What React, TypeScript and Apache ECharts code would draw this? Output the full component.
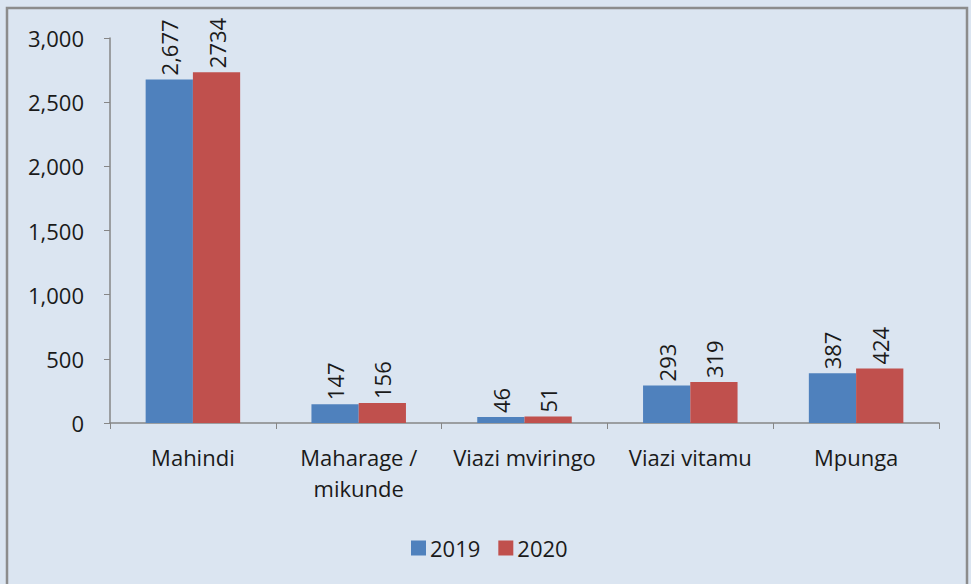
import React, { useEffect, useRef } from "react";
import * as echarts from "echarts";

const categories = ["Mahindi", "Maharage /\nmikunde", "Viazi mviringo", "Viazi vitamu", "Mpunga"];
const values2019 = [2677, 147, 46, 293, 387];
const values2020 = [2734, 156, 51, 319, 424];
const labels2019 = ["2,677", "147", "46", "293", "387"];
const labels2020 = ["2734", "156", "51", "319", "424"];
const yTicks = [0, 500, 1000, 1500, 2000, 2500, 3000];

const FONT = "Open Sans";
const FS = 22;

export default function App() {
  const ref = useRef<HTMLDivElement>(null);
  useEffect(() => {
    if (!ref.current) return;
    const chart = echarts.init(ref.current, undefined, { renderer: "svg" });
    const fmt = (v: number) => v.toLocaleString("en-US");
    const labelCfg = (labels: string[]) => ({
      show: true,
      position: "top",
      rotate: 90,
      align: "left",
      verticalAlign: "middle",
      distance: 4,
      fontFamily: FONT,
      fontSize: FS,
      color: "#1a1a1a",
      formatter: (p: any) => labels[p.dataIndex],
    });
    chart.setOption({
      animation: false,
      backgroundColor: "#dbe5f1",
      textStyle: { fontFamily: FONT },
      graphic: [
        {
          type: "rect",
          shape: { x: 7, y: 8, width: 960, height: 600 },
          style: { fill: "none", stroke: "#8c8c8c", lineWidth: 2.5 },
          silent: true,
        },
      ],
      grid: { left: 110, right: 32, top: 38, bottom: 161, containLabel: false },
      legend: {
        data: ["2019", "2020"],
        left: 406,
        top: 532,
        itemWidth: 15,
        itemHeight: 15,
        itemGap: 18,
        icon: "rect",
        textStyle: { fontFamily: FONT, fontSize: FS, color: "#1a1a1a", padding: [0, 0, 0, -1] },
      },
      xAxis: {
        type: "category",
        data: categories,
        axisLine: { lineStyle: { color: "#868686", width: 1.5 } },
        axisTick: { show: true, length: 6, lineStyle: { color: "#868686" }, alignWithLabel: false },
        axisLabel: {
          margin: 18,
          fontFamily: FONT,
          fontSize: FS,
          color: "#1a1a1a",
          lineHeight: 31,
          interval: 0,
        },
      },
      yAxis: {
        type: "value",
        min: yTicks[0],
        max: yTicks[yTicks.length - 1],
        interval: 500,
        axisLine: { show: true, lineStyle: { color: "#868686", width: 1.5 } },
        axisTick: { show: true, length: 6, lineStyle: { color: "#868686" } },
        splitLine: { show: false },
        axisLabel: {
          margin: 26,
          fontFamily: FONT,
          fontSize: FS,
          color: "#1a1a1a",
          formatter: (v: number) => fmt(v),
        },
      },
      series: [
        {
          name: "2019",
          type: "bar",
          data: values2019,
          itemStyle: { color: "#4f81bd" },
          barGap: "0%",
          barCategoryGap: "43%",
          label: labelCfg(labels2019),
        },
        {
          name: "2020",
          type: "bar",
          data: values2020,
          itemStyle: { color: "#c0504d" },
          barGap: "0%",
          barCategoryGap: "43%",
          label: labelCfg(labels2020),
        },
      ],
    });
    return () => chart.dispose();
  }, []);
  return (
    <div
      ref={ref}
      style={{ position: "fixed", left: 0, top: 0, width: 971, height: 584 }}
    />
  );
}
